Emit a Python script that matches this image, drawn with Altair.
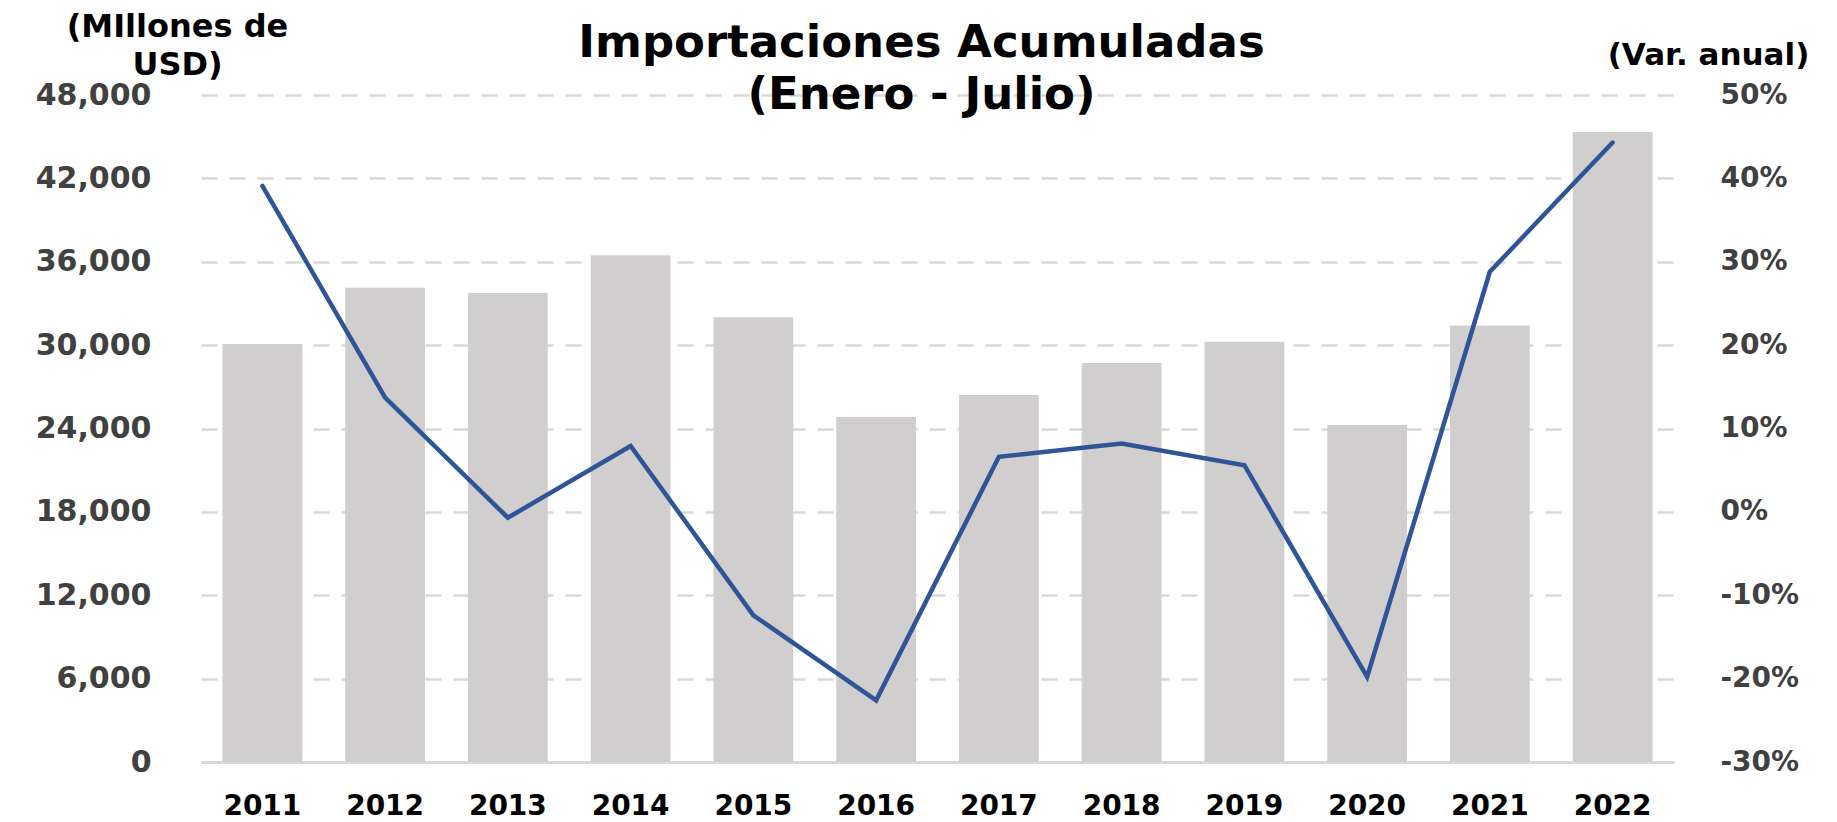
import altair as alt
import pandas as pd

# ---- data ----
years = ["2011", "2012", "2013", "2014", "2015", "2016",
         "2017", "2018", "2019", "2020", "2021", "2022"]
imports_musd = [30080, 34130, 33750, 36460, 32000, 24830,
                26410, 28710, 30250, 24250, 31420, 45340]
var_anual = [0.391, 0.137, -0.007, 0.079, -0.124, -0.226,
             0.066, 0.082, 0.056, -0.198, 0.288, 0.443]
left_ticks = [0, 6000, 12000, 18000, 24000, 30000, 36000, 42000, 48000]
right_ticks = [-0.3, -0.2, -0.1, 0.0, 0.1, 0.2, 0.3, 0.4, 0.5]

title_lines = ["Importaciones Acumuladas", "(Enero - Julio)"]
left_title = ["(MIllones de", "USD)"]
right_title = "(Var. anual)"

df = pd.DataFrame({"year": years, "imports": imports_musd, "var": var_anual})

FONT = "DejaVu Sans"
GRID = "#D9D9D9"

x_enc = alt.X(
    "year:N", sort=years, title=None,
    scale=alt.Scale(paddingInner=0.35, paddingOuter=0.175),
    axis=alt.Axis(labelAngle=0, labelFont=FONT, labelFontSize=28,
                  labelFontWeight="bold", labelColor="#000000",
                  labelPadding=30, ticks=False, tickSize=0,
                  domain=True, domainColor=GRID, domainWidth=3, grid=False),
)

bars = alt.Chart(df).mark_bar(color="#D0CECE").encode(
    x=x_enc,
    y=alt.Y(
        "imports:Q",
        scale=alt.Scale(domain=[0, 48000], nice=False, zero=True),
        axis=alt.Axis(values=left_ticks, format=",.0f", title=left_title,
                      titleAngle=0, titleX=-24, titleY=-59,
                      titleAlign="center", titleBaseline="alphabetic",
                      titleLineHeight=38, titleFont=FONT, titleFontSize=32,
                      titleFontWeight="bold", titleColor="#000000",
                      labelFont=FONT, labelFontSize=30, labelFontWeight="bold",
                      labelColor="#404040", labelPadding=50,
                      ticks=False, tickSize=0, domain=False,
                      grid=True, gridColor=GRID, gridDash=[16, 12], gridWidth=2.5),
    ),
)

line = alt.Chart(df).mark_line(color="#2F5597", strokeWidth=4.5, strokeCap="round").encode(
    x=alt.X("year:N", sort=years),
    y=alt.Y(
        "var:Q",
        scale=alt.Scale(domain=[-0.3, 0.5], nice=False, zero=False),
        axis=alt.Axis(orient="right", values=right_ticks,
                      labelExpr="round(datum.value*100) + '%'",
                      title=right_title, titleAngle=0, titleX=34, titleY=-31,
                      titleAlign="center", titleBaseline="alphabetic",
                      titleFont=FONT, titleFontSize=31, titleFontWeight="bold",
                      titleColor="#000000",
                      labelFont=FONT, labelFontSize=28, labelFontWeight="bold",
                      labelColor="#404040", labelPadding=46,
                      ticks=False, tickSize=0, domain=False, grid=False),
    ),
)

chart = (
    alt.layer(bars, line)
    .resolve_scale(y="independent")
    .properties(
        width=1473, height=667,
        title=alt.TitleParams(text=title_lines, font=FONT, fontSize=45,
                              fontWeight="bold", color="#000000",
                              lineHeight=52, anchor="middle", frame="group",
                              dx=-16, offset=-108),
        autosize=alt.AutoSizeParams(type="none"),
        padding={"left": 193, "top": 87, "right": 155, "bottom": 60},
    )
    .configure_view(stroke=None)
)

chart.save("out.html", embed_options={"renderer": "svg", "actions": False})
